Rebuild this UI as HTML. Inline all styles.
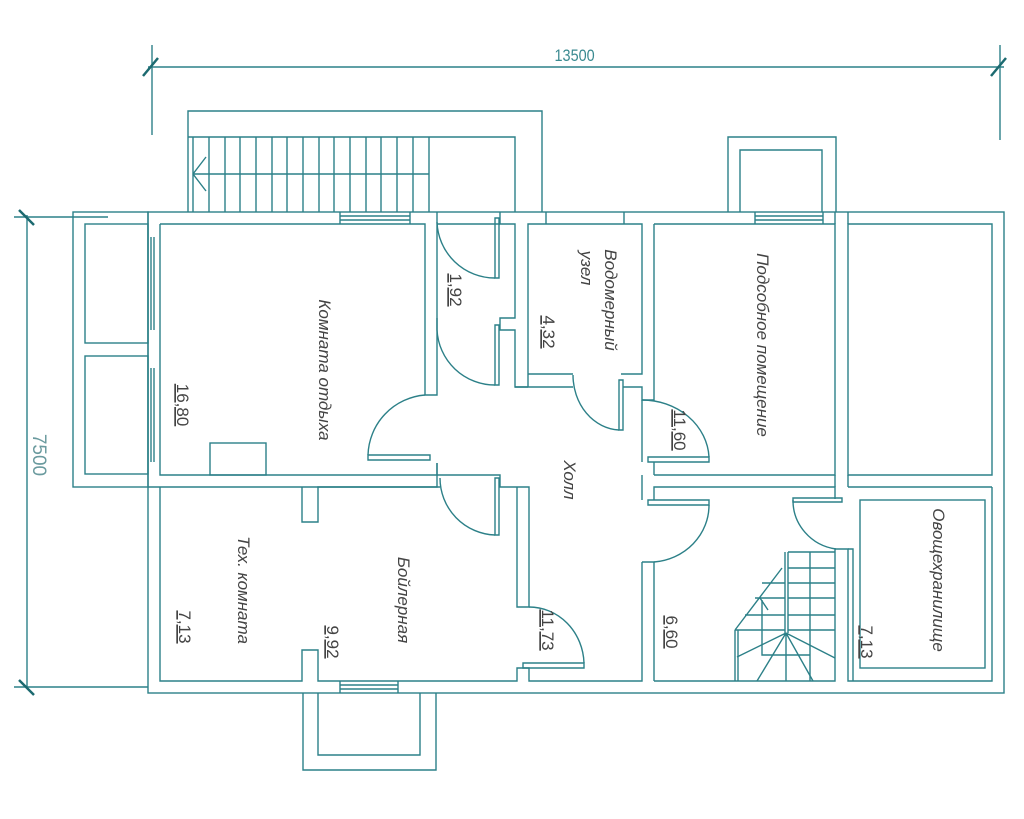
<!DOCTYPE html>
<html><head><meta charset="utf-8"><style>
body{margin:0;background:#fff}
svg{display:block}
.w{fill:none;stroke:#2c8088;stroke-width:1.4}
.t{font-family:"Liberation Sans",sans-serif;fill:#444;font-size:17px;font-style:italic}
.n{font-family:"Liberation Sans",sans-serif;fill:#444;font-size:17px}
</style></head><body>
<svg width="1024" height="819" viewBox="0 0 1024 819">
<g class="w">
<!-- dimensions -->
<line x1="148" y1="67" x2="1004" y2="67"/>
<line x1="152" y1="45" x2="152" y2="135"/>
<line x1="1000" y1="45" x2="1000" y2="140"/>
<line x1="143" y1="76" x2="158" y2="58" stroke-width="2.5" stroke="#1c6a70"/>
<line x1="991" y1="76" x2="1006" y2="58" stroke-width="2.5" stroke="#1c6a70"/>
<line x1="27" y1="215" x2="27" y2="687"/>
<line x1="14" y1="217" x2="108" y2="217"/>
<line x1="14" y1="687" x2="148" y2="687"/>
<line x1="19" y1="210" x2="34" y2="225" stroke-width="2.5" stroke="#1c6a70"/>
<line x1="19" y1="680" x2="34" y2="695" stroke-width="2.5" stroke="#1c6a70"/>
<!-- outer walls -->
<rect x="148" y="212" width="856" height="481"/>
<rect x="73" y="212" width="75" height="275"/>
<rect x="85" y="224" width="63" height="119"/>
<rect x="85" y="356" width="63" height="118"/>
<!-- left windows -->
<path d="M151 237V330M154 237V330M151 368V462M154 368V462"/>
<!-- stair annex -->
<path d="M188 212V111H542V212M188 137H515V212"/>
<path d="M193 137V212M209 137V212M225 137V212M240 137V212M256 137V212M272 137V212M287 137V212M303 137V212M319 137V212M334 137V212M350 137V212M366 137V212M381 137V212M397 137V212M413 137V212M429 137V212M193 174H429M206 157L193 174L206 191"/>
<!-- top window -->
<path d="M340 212V224M410 212V224M340 216H410M340 220H410"/>
<!-- top right annex -->
<path d="M728 212V137H836V212M740 212V150H822V212"/>
<path d="M755 212V224M823 212V224M755 216H823M755 220H823"/>
<!-- Комната отдыха -->
<path d="M160 224H425V395H437V212M160 224V475H437V463"/>
<rect x="210" y="443" width="56" height="32"/>
<path d="M368 455H430V460H368Z"/>
<path d="M368 455A62 62 0 0 1 425 395"/>
<!-- corridor 1.92 -->
<path d="M500 212V224H515V318H500V330H515V387H528"/>
<path d="M437 224H500"/>
<path d="M495 218H499V278H495Z"/>
<path d="M437 222A58 58 0 0 0 495 278"/>
<path d="M495 325H499V385H495Z"/>
<path d="M437 330A58 58 0 0 0 495 385"/>
<path d="M437 318V330"/>
<!-- Водомерный -->
<path d="M528 387V224H642V374H621"/>
<path d="M515 387H573"/>
<path d="M573 374H528"/>
<path d="M546 212V224M624 212V224"/>
<path d="M619 380H623V430H619Z"/>
<path d="M573 375A48 55 0 0 0 619 430"/>
<path d="M623 387H642V400H654V224"/>
<!-- Подсобное -->
<path d="M654 224H835V475H654M654 462V475"/>
<path d="M848 224H992V475H848Z"/>
<path d="M835 212V224M848 212V224"/>
<path d="M648 457H709V462H648Z"/>
<path d="M642 400A67 60 0 0 1 709 457"/>
<path d="M642 400V462M642 475V500"/>
<!-- bottom row -->
<path d="M148 487H160M160 487H437V463"/>
<path d="M160 487V681H302V650H318V681H517V668H529V681H642V562"/>
<path d="M302 487V522H318V487H440"/>
<!-- hall doors -->
<path d="M437 475H500V487H517V607H529V487H500"/>
<path d="M495 478H499V535H495Z"/>
<path d="M440 478A57 57 0 0 0 495 535"/>
<path d="M523 663H584V668H523Z"/>
<path d="M529 607A55 58 0 0 1 584 663"/>
<path d="M648 500H709V505H648Z"/>
<path d="M709 505A60 57 0 0 1 654 562"/>
<path d="M642 562H654V681M654 500V487H835V499M848 487H992"/>
<path d="M654 681H835V549H848V681H992V487"/>
<path d="M835 487V475M848 487V475"/>
<path d="M793 498H842V502H793Z"/>
<path d="M793 500A50 49 0 0 0 836 549"/>
<!-- Овощехранилище -->
<rect x="860" y="500" width="125" height="168"/>
<path d="M848 549H853V681"/>
<!-- stair -->
<path d="M785 552V633M788 552V633M810 552V681M788 552H835M788 568H835M788 583H835M788 598H835M788 615H835M788 630H835"/>
<path d="M735 630L782 568M735 630V681M738 630V681M762 583H785M755 598H785M745 615H785M762 600V655H810M735 630H785"/>
<path d="M786 633L737 657M786 633L757 681M786 633V681M786 633L813 681M786 633L835 658"/>
<path d="M760 598L768 610"/>
<!-- bottom annex -->
<path d="M303 693V770H436V693M318 693V755H420V693"/>
<path d="M340 681V693M398 681V693M340 685H398M340 689H398"/>
</g>
<text x="575" y="61" text-anchor="middle" font-family="Liberation Sans,sans-serif" font-size="17" fill="#3a8a90" transform="scale(0.85 1) translate(101 0)">13500</text>
<text class="n" transform="translate(33 455) rotate(90)" text-anchor="middle" style="fill:#6a9a9e;font-size:19px">7500</text>
<g>
<text class="t" transform="translate(319 370) rotate(90)" text-anchor="middle">Комната отдыха</text>
<text class="n" transform="translate(177 405) rotate(90)" text-anchor="middle" text-decoration="underline">16,80</text>
<text class="n" transform="translate(450 290) rotate(90)" text-anchor="middle" text-decoration="underline">1,92</text>
<text class="n" transform="translate(543 332) rotate(90)" text-anchor="middle" text-decoration="underline">4,32</text>
<text class="t" transform="translate(605 300) rotate(90)" text-anchor="middle">Водомерный</text>
<text class="t" transform="translate(581 268) rotate(90)" text-anchor="middle">узел</text>
<text class="t" transform="translate(757 345) rotate(90)" text-anchor="middle">Подсобное помещение</text>
<text class="n" transform="translate(674 430) rotate(90)" text-anchor="middle" text-decoration="underline">11,60</text>
<text class="t" transform="translate(564 480) rotate(90)" text-anchor="middle">Холл</text>
<text class="t" transform="translate(238 590) rotate(90)" text-anchor="middle">Тех. комната</text>
<text class="t" transform="translate(398 600) rotate(90)" text-anchor="middle">Бойлерная</text>
<text class="n" transform="translate(179 627) rotate(90)" text-anchor="middle" text-decoration="underline">7,13</text>
<text class="n" transform="translate(327 642) rotate(90)" text-anchor="middle" text-decoration="underline">9,92</text>
<text class="n" transform="translate(542 630) rotate(90)" text-anchor="middle" text-decoration="underline">11,73</text>
<text class="n" transform="translate(666 632) rotate(90)" text-anchor="middle" text-decoration="underline">6,60</text>
<text class="t" transform="translate(933 580) rotate(90)" text-anchor="middle">Овощехранилище</text>
<text class="n" transform="translate(861 642) rotate(90)" text-anchor="middle" text-decoration="underline">7,13</text>
</g>
</svg>
</body></html>
